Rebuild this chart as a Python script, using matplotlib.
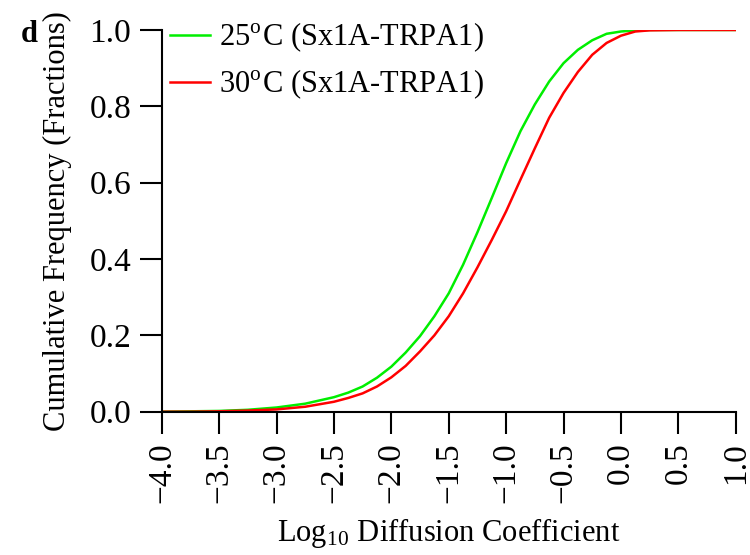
import numpy as np
import matplotlib
matplotlib.use("Agg")
import matplotlib.pyplot as plt

plt.rcParams['font.family'] = ['Liberation Serif', 'DejaVu Serif']
plt.rcParams['mathtext.fontset'] = 'stix'

# log10 diffusion coefficient values
log_d = [-4.0, -3.75, -3.5, -3.25, -3.0, -2.75, -2.5, -2.375, -2.25, -2.125,
         -2.0, -1.875, -1.75, -1.625, -1.5, -1.375, -1.25, -1.125, -1.0,
         -0.875, -0.75, -0.625, -0.5, -0.375, -0.25, -0.125, 0.0, 0.125,
         0.25, 0.5, 0.75, 1.0]

# cumulative fractions
cdf_25 = [0.0, 0.001, 0.002, 0.005, 0.011, 0.021, 0.038, 0.050, 0.066, 0.089,
          0.118, 0.155, 0.198, 0.250, 0.310, 0.385, 0.470, 0.560, 0.651,
          0.735, 0.805, 0.865, 0.913, 0.948, 0.973, 0.990, 0.996, 0.999,
          1.0, 1.0, 1.0, 1.0]
cdf_30 = [0.0, 0.0, 0.001, 0.003, 0.006, 0.013, 0.026, 0.036, 0.048, 0.066,
          0.090, 0.120, 0.158, 0.200, 0.250, 0.310, 0.378, 0.450, 0.525,
          0.608, 0.690, 0.770, 0.835, 0.890, 0.935, 0.966, 0.985, 0.996,
          0.999, 1.0, 1.0, 1.0]

labels = ['25$^{\\mathregular{o}}$C (Sx1A-TRPA1)', '30$^{\\mathregular{o}}$C (Sx1A-TRPA1)']
colors = ['#00ee00', '#ff0000']
fs = 22

fig = plt.figure(figsize=(7.5, 5.55), dpi=100)
ax = fig.add_axes([0.2156, 0.2582, 0.7654, 0.6878])

ax.plot(log_d, cdf_25, color=colors[0], linewidth=1.8, label=labels[0])
ax.plot(log_d, cdf_30, color=colors[1], linewidth=1.8, label=labels[1])

ax.set_xlim(-4.0, 1.0)
ax.set_ylim(0.0, 1.0)
xt = np.arange(-4.0, 1.01, 0.5)
ax.set_xticks(xt)
# 0.0 shows without sign
ax.set_xticklabels([f'{v:.1f}'.replace('-', '\u2212') if v < -0.01 else f'{abs(v):.1f}' for v in xt],
                   rotation=90)
yt = np.arange(0.0, 1.01, 0.2)
ax.set_yticks(yt)
ax.set_yticklabels([f'{v:.1f}' for v in yt])

for s in ['top', 'right']:
    ax.spines[s].set_visible(False)
for s in ['left', 'bottom']:
    ax.spines[s].set_linewidth(1.5)
ax.tick_params(direction='out', length=16, width=1.5, labelsize=24, pad=6)

ax.set_xlabel('Log$_{\\mathregular{10}}$ Diffusion Coefficient', fontsize=fs, va='center')
ax.xaxis.set_label_coords(0.5, -0.318)
ax.set_ylabel('Cumulative Frequency (Fractions)', fontsize=fs, va='center', ha='center')
ax.yaxis.set_label_coords(-0.182, 0.5)

ax.legend(loc='upper left', bbox_to_anchor=(0.0145, 1.025), frameon=False, fontsize=fs,
          handlelength=1.3, handletextpad=0.3, labelspacing=0.45,
          borderaxespad=0.0, borderpad=0.0)

fig.text(0.027, 0.924, 'd', fontsize=fs, fontweight='bold', va='baseline')

fig.savefig('out.png', dpi=100)
